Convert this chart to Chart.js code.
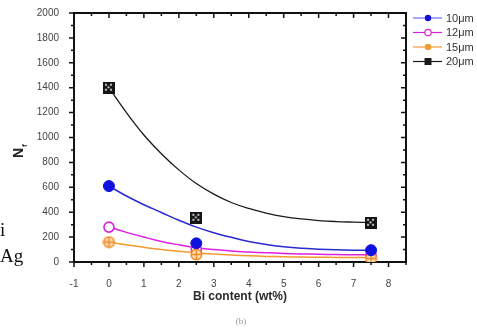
<!DOCTYPE html>
<html lang="en">
<head>
    <meta charset="UTF-8">
    <title>Nf vs Bi content</title>
    <style>
        body { margin: 0; background: #fff; }
        #wrap { position: relative; width: 477px; height: 331px; }
        canvas { position: absolute; left: 0; top: 0; }
        .side {
            position: absolute;
            font-family: "Liberation Serif", "Times New Roman", serif;
            font-size: 19px;
            color: #111;
        }
    </style>
</head>
<body>
    <div id="wrap">
        <canvas id="nfChart" width="477" height="331"></canvas>
        <div class="side" style="left:0px; top:219px;">i</div>
        <div class="side" style="left:0px; top:245px;">Ag</div>
    </div>

    <script src="https://cdn.jsdelivr.net/npm/chart.js"></script>
    <script>
        // measured points
        const biContent = [0, 2.5, 7.5];
        const nf10 = [610, 150, 95];
        const nf12 = [280, 100, 57];
        const nf15 = [160, 60, 28];
        const nf20 = [1400, 355, 315];

        // fitted curves, read every 0.5 wt%
        const fitX = [0, 0.5, 1, 1.5, 2, 2.5, 3, 3.5, 4, 4.5, 5, 5.5, 6, 6.5, 7, 7.5];
        const fit10 = [610, 530, 460, 398, 335, 280, 235, 198, 165, 140, 122, 110, 103, 98, 95, 93];
        const fit12 = [280, 238, 200, 165, 138, 115, 100, 88, 80, 74, 69, 65, 62, 60, 58, 57];
        const fit15 = [160, 138, 118, 100, 86, 74, 64, 56, 50, 45, 42, 40, 38, 37, 36, 35];
        const fit20 = [1400, 1200, 1020, 870, 740, 630, 545, 478, 430, 393, 365, 346, 333, 325, 320, 316];

        const seriesLabels = ['10\u03bcm', '12\u03bcm', '15\u03bcm', '20\u03bcm'];

        const BLUE = '#1010e0', MAGENTA = '#e020e0', ORANGE = '#f59a30', BLACK = '#1a1a1a';

        function pts(xs, ys) {
            return xs.map((x, i) => ({ x: x, y: ys[i] }));
        }

        // orange circle with a cross inside
        function crossCircle() {
            const c = document.createElement('canvas');
            c.width = 13; c.height = 13;
            const g = c.getContext('2d');
            g.fillStyle = '#ffe2c0';
            g.strokeStyle = '#f08a20';
            g.lineWidth = 1.5;
            g.beginPath(); g.arc(6.5, 6.5, 5.3, 0, Math.PI * 2); g.fill(); g.stroke();
            g.beginPath();
            g.moveTo(1.5, 6.5); g.lineTo(11.5, 6.5);
            g.moveTo(6.5, 1.5); g.lineTo(6.5, 11.5);
            g.stroke();
            return c;
        }

        // black square with a dotted pattern
        function dottedSquare() {
            const c = document.createElement('canvas');
            c.width = 12; c.height = 12;
            const g = c.getContext('2d');
            g.fillStyle = '#151515';
            g.fillRect(0, 0, 12, 12);
            g.fillStyle = '#e8e8e8';
            [[3, 3], [8, 3], [5.5, 5.5], [3, 8], [8, 8]].forEach(p => {
                g.beginPath(); g.arc(p[0], p[1], 1.1, 0, Math.PI * 2); g.fill();
            });
            return c;
        }

        const orangeMark = crossCircle();
        const blackMark = dottedSquare();

        function curve(data, color, width) {
            return {
                data: data, borderColor: color, borderWidth: width, showLine: true,
                pointRadius: 0, tension: 0.4, fill: false, order: 10
            };
        }

        // ticks on all four sides plus the top/right frame, legend and titles
        const decorPlugin = {
            id: 'decor',
            afterDraw(chart) {
                const ctx = chart.ctx;
                const a = chart.chartArea;
                const xs = chart.scales.x, ys = chart.scales.y;
                ctx.save();
                ctx.strokeStyle = '#111';
                ctx.lineWidth = 2;
                ctx.beginPath();
                ctx.moveTo(a.left - 1, a.top); ctx.lineTo(a.right, a.top); ctx.lineTo(a.right, a.bottom + 1);
                ctx.stroke();

                ctx.lineWidth = 1.5;
                ctx.beginPath();
                for (let v = 0; v <= 2000; v += 100) {
                    const py = ys.getPixelForValue(v);
                    const len = v % 200 === 0 ? 5 : 3;
                    ctx.moveTo(a.left - len, py); ctx.lineTo(a.left, py);
                    ctx.moveTo(a.right - len, py); ctx.lineTo(a.right, py);
                }
                for (let v = -1; v <= 8.5; v += 0.5) {
                    const px = xs.getPixelForValue(v);
                    const len = Number.isInteger(v) ? 5 : 3;
                    ctx.moveTo(px, a.bottom); ctx.lineTo(px, a.bottom + len);
                    ctx.moveTo(px, a.top); ctx.lineTo(px, a.top + len);
                }
                ctx.stroke();

                // y title N_f
                ctx.save();
                ctx.translate(23, 152);
                ctx.rotate(-Math.PI / 2);
                ctx.fillStyle = '#222';
                ctx.textBaseline = 'alphabetic';
                ctx.font = 'bold 14px "Liberation Sans", Arial, sans-serif';
                ctx.fillText('N', -6, 0);
                ctx.font = 'bold 8px "Liberation Sans", Arial, sans-serif';
                ctx.fillText('f', 5, 4);
                ctx.restore();

                // x title
                ctx.fillStyle = '#2a2a2a';
                ctx.textAlign = 'center';
                ctx.textBaseline = 'middle';
                ctx.font = 'bold 12px "Liberation Sans", Arial, sans-serif';
                ctx.fillText('Bi content (wt%)', 240, 297);
                ctx.fillStyle = '#999';
                ctx.font = '9px "Liberation Serif", serif';
                ctx.fillText('(b)', 241, 322);

                // legend
                const rows = [
                    { line: '#6a6aff', mark: 'dot', color: BLUE },
                    { line: MAGENTA, mark: 'open', color: MAGENTA },
                    { line: ORANGE, mark: 'dot', color: ORANGE },
                    { line: BLACK, mark: 'square', color: BLACK }
                ];
                rows.forEach((r, i) => {
                    const ly = 18 + i * 14.5;
                    ctx.strokeStyle = r.line;
                    ctx.lineWidth = 1.2;
                    ctx.beginPath(); ctx.moveTo(413, ly); ctx.lineTo(442, ly); ctx.stroke();
                    if (r.mark === 'square') {
                        ctx.fillStyle = r.color;
                        ctx.fillRect(424.5, ly - 3.5, 7, 7);
                    } else {
                        ctx.beginPath(); ctx.arc(428, ly, 3.2, 0, Math.PI * 2);
                        ctx.fillStyle = r.mark === 'open' ? '#fff' : r.color;
                        ctx.fill();
                        if (r.mark === 'open') { ctx.strokeStyle = r.color; ctx.stroke(); }
                    }
                    ctx.fillStyle = '#333';
                    ctx.textAlign = 'left';
                    ctx.font = '11px "Liberation Sans", Arial, sans-serif';
                    ctx.fillText(seriesLabels[i], 446, ly + 0.5);
                });
                ctx.restore();
            }
        };

        const tickFont = { family: '"Liberation Sans", Arial, sans-serif', size: 10 };

        new Chart(document.getElementById('nfChart').getContext('2d'), {
            type: 'scatter',
            data: {
                datasets: [
                    curve(pts(fitX, fit20), BLACK, 1.3),
                    curve(pts(fitX, fit10), '#2a2ad0', 1.5),
                    curve(pts(fitX, fit12), MAGENTA, 1.5),
                    curve(pts(fitX, fit15), ORANGE, 1.5),
                    {
                        label: seriesLabels[0], data: pts(biContent, nf10), order: 1,
                        pointStyle: 'circle', pointRadius: 5.5, backgroundColor: BLUE, borderColor: BLUE
                    },
                    {
                        label: seriesLabels[1], data: pts(biContent, nf12), order: 3,
                        pointStyle: 'circle', pointRadius: 5, backgroundColor: '#fff', borderColor: MAGENTA, borderWidth: 1.6
                    },
                    {
                        label: seriesLabels[2], data: pts(biContent, nf15), order: 2,
                        pointStyle: orangeMark
                    },
                    {
                        label: seriesLabels[3], data: pts(biContent, nf20), order: 4,
                        pointStyle: blackMark
                    }
                ]
            },
            options: {
                responsive: false,
                animation: false,
                events: [],
                layout: { padding: { left: 14, right: 71, top: 13, bottom: 39 } },
                plugins: { legend: { display: false }, tooltip: { enabled: false } },
                scales: {
                    x: {
                        type: 'linear', min: -1, max: 8.5,
                        grid: { display: false },
                        border: { display: true, color: '#111', width: 2 },
                        ticks: { stepSize: 1, includeBounds: false, autoSkip: false, color: '#444',
                            font: tickFont, padding: 8, callback: v => String(v) },
                        afterFit: s => { s.height = 30; }
                    },
                    y: {
                        min: 0, max: 2000,
                        grid: { display: false },
                        border: { display: true, color: '#111', width: 2 },
                        ticks: { stepSize: 200, color: '#444', font: tickFont, padding: 7,
                            callback: v => String(v) },
                        afterFit: s => { s.width = 60; }
                    }
                }
            },
            plugins: [decorPlugin]
        });
    </script>
</body>
</html>
